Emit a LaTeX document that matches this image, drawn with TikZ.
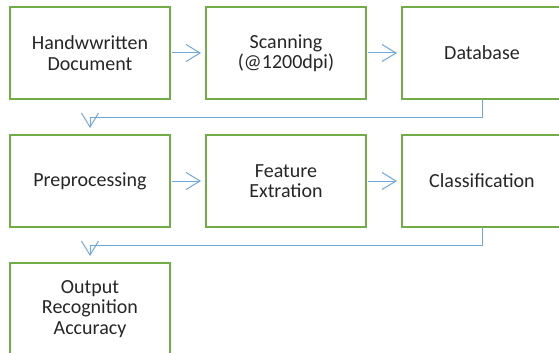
\documentclass[tikz,border=0pt]{standalone}
\usepackage{fontspec}
\setmainfont{Carlito}
\usepackage{tikz}
\usetikzlibrary{positioning}
\usetikzlibrary{arrows.meta}
\usetikzlibrary{calc}

\definecolor{boxgreen}{HTML}{70AD47}
\definecolor{flowblue}{HTML}{6FA8DC}

\begin{document}
\begin{tikzpicture}[
	stagebox/.style={draw=boxgreen, line width=2pt, minimum width=160pt, minimum height=92pt, align=center, text=black!85, font=\fontsize{20}{20.5}\selectfont},
	flow/.style={draw=flowblue, line width=1pt, -{Straight Barb[length=14pt,width=17pt]}},
	node distance=34pt and 34pt]
	% Page size of the picture
	\clip (0,0) rectangle (559pt,-353pt);

	% First row
	\node[stagebox] (hw) at (90pt,-53pt) {Handwwritten\\Document};
	\node[stagebox, right=of hw] (scan) {Scanning\\(@1200dpi)};
	\node[stagebox, right=of scan] (db) {Database};

	% Second row
	\node[stagebox, below=of hw] (pre) {Preprocessing};
	\node[stagebox, right=of pre] (feat) {Feature\\Extration};
	\node[stagebox, right=of feat] (cls) {Classification};

	% Last row
	\node[stagebox, below=of pre] (out) {Output\\Recognition\\Accuracy};

	% Arrows inside a row
	\draw[flow, shorten >=4pt, shorten <=1pt] (hw) -- (scan);
	\draw[flow, shorten >=4pt, shorten <=1pt] (scan) -- (db);
	\draw[flow, shorten >=4pt, shorten <=1pt] (pre) -- (feat);
	\draw[flow, shorten >=4pt, shorten <=1pt] (feat) -- (cls);

	% Arrows back to the next row
	\draw[flow, shorten >=6pt] (db.south) |- ($(db.south)!.5!(cls.north)$) -| (pre.north);
	\draw[flow, shorten >=6pt] (cls.south) |- ($(cls.south)!.5!(out.north -| cls.south)$) -| (out.north);
\end{tikzpicture}
\end{document}
